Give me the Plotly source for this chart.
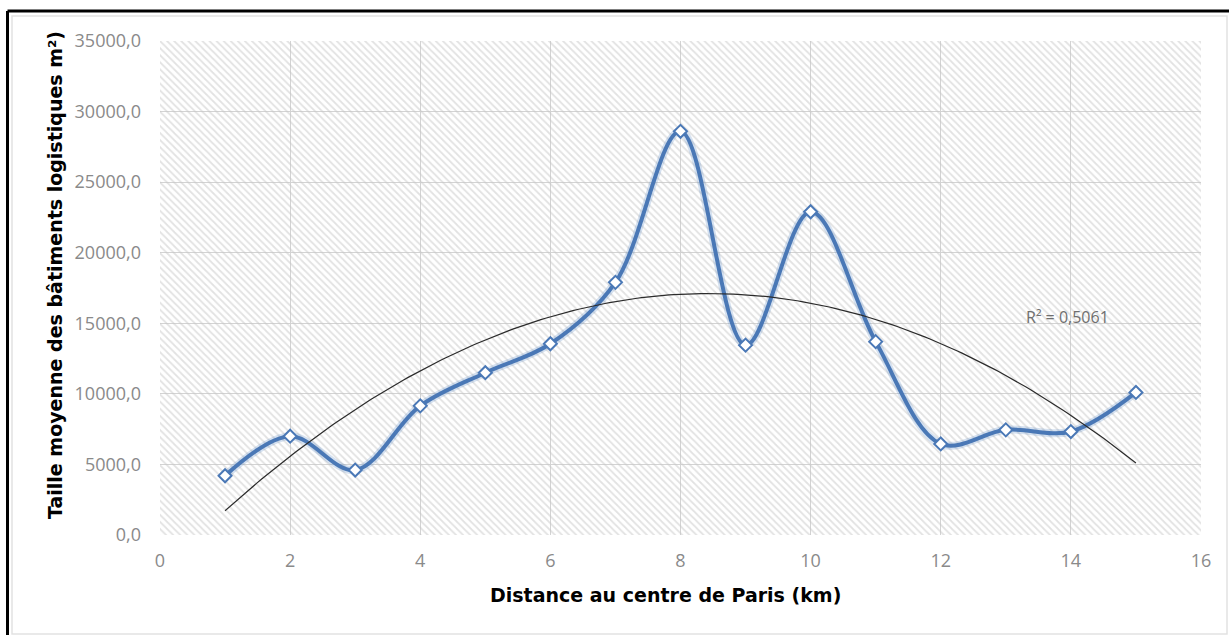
import numpy as np
import plotly.graph_objects as go

# Average logistics building size by distance from central Paris
distance_km = [1, 2, 3, 4, 5, 6, 7, 8, 9, 10, 11, 12, 13, 14, 15]
taille_m2 = [4200, 7000, 4600, 9150, 11500, 13550, 17900, 28600,
             13450, 22900, 13700, 6450, 7450, 7330, 10100]
r2_label = "R² = 0,5061"

x_ticks = [0, 2, 4, 6, 8, 10, 12, 14, 16]
y_ticks = [0, 5000, 10000, 15000, 20000, 25000, 30000, 35000]
X_RANGE = [0, 16]
Y_RANGE = [0, 35000]

W, H = 1229, 635
BLUE = "#4a78b6"
TICK_GREY = "#8a8a8a"


def px(x):
    return x / W


def py(y):
    return 1 - y / H


# second-order polynomial trend line
coef = np.polyfit(distance_km, taille_m2, 2)
trend_x = np.linspace(min(distance_km), max(distance_km), 200)
trend_y = np.polyval(coef, trend_x)

fig = go.Figure()

# hatched plot-area background
fig.add_trace(go.Bar(
    x=[sum(X_RANGE) / 2], y=[Y_RANGE[1]], width=[X_RANGE[1] - X_RANGE[0]],
    marker=dict(color="rgba(0,0,0,0)", line=dict(width=0),
                pattern=dict(shape="\\", fgcolor="#c6c6c6",
                             bgcolor="rgba(0,0,0,0)", size=5, solidity=0.35)),
    hoverinfo="skip", showlegend=False,
))

# soft halo under the series line
fig.add_trace(go.Scatter(
    x=distance_km, y=taille_m2, mode="lines",
    line=dict(color="rgba(90,140,200,0.25)", width=8, shape="spline", smoothing=1),
    hoverinfo="skip", showlegend=False,
))

fig.add_trace(go.Scatter(
    x=distance_km, y=taille_m2, mode="lines+markers",
    line=dict(color=BLUE, width=4, shape="spline", smoothing=1),
    marker=dict(symbol="diamond", size=10, color="white",
                line=dict(color=BLUE, width=2)),
    hoverinfo="skip", showlegend=False,
))

fig.add_trace(go.Scatter(
    x=trend_x, y=trend_y, mode="lines",
    line=dict(color="#2b2b2b", width=1.2),
    hoverinfo="skip", showlegend=False,
))

axis_font = dict(family="Open Sans", size=18, color=TICK_GREY)

fig.update_xaxes(
    range=X_RANGE, tickvals=x_ticks, domain=[px(160), px(1201)],
    showgrid=True, gridcolor="#d3d3d3", gridwidth=1,
    zeroline=False, showline=False, ticks="", ticklabelstandoff=13,
    tickfont=axis_font, automargin=False,
)
fig.update_yaxes(
    range=Y_RANGE, tickvals=y_ticks, tickformat=".1f", domain=[py(535), py(41)],
    showgrid=True, gridcolor="#d3d3d3", gridwidth=1,
    zeroline=False, showline=False, ticks="", ticklabelstandoff=18,
    tickfont=axis_font, automargin=False,
)

title_font = dict(family="DejaVu Sans", size=19, color="black")

fig.update_layout(
    width=W, height=H,
    margin=dict(l=0, r=0, t=0, b=0),
    paper_bgcolor="white", plot_bgcolor="white",
    separators=", ",
    bargap=0,
    shapes=[
        # chart area frame
        dict(type="rect", xref="paper", yref="paper",
             x0=px(12), x1=px(1227), y0=py(634), y1=py(16),
             line=dict(color="#e2e2e2", width=1.5), layer="below"),
        # outer black frame (top and left edges)
        dict(type="line", xref="paper", yref="paper",
             x0=px(7.5), x1=1.0, y0=py(11), y1=py(11),
             line=dict(color="black", width=3)),
        dict(type="line", xref="paper", yref="paper",
             x0=px(7.5), x1=px(7.5), y0=py(11), y1=0.0,
             line=dict(color="black", width=3)),
    ],
    annotations=[
        dict(text="<b>Taille moyenne des bâtiments logistiques m²)</b>",
             xref="paper", yref="paper", x=px(55), y=py(275),
             xanchor="center", yanchor="middle",
             textangle=-90, showarrow=False, font=title_font),
        dict(text="<b>Distance au centre de Paris (km)</b>",
             xref="paper", yref="paper", x=px(665), y=py(595),
             xanchor="center", yanchor="middle",
             showarrow=False, font=title_font),
        dict(text=r2_label, xref="paper", yref="paper", x=px(1067), y=py(317),
             xanchor="center", yanchor="middle", showarrow=False,
             font=dict(family="Open Sans", size=16, color="#6f6f6f")),
    ],
)

fig.write_html("out.html")
